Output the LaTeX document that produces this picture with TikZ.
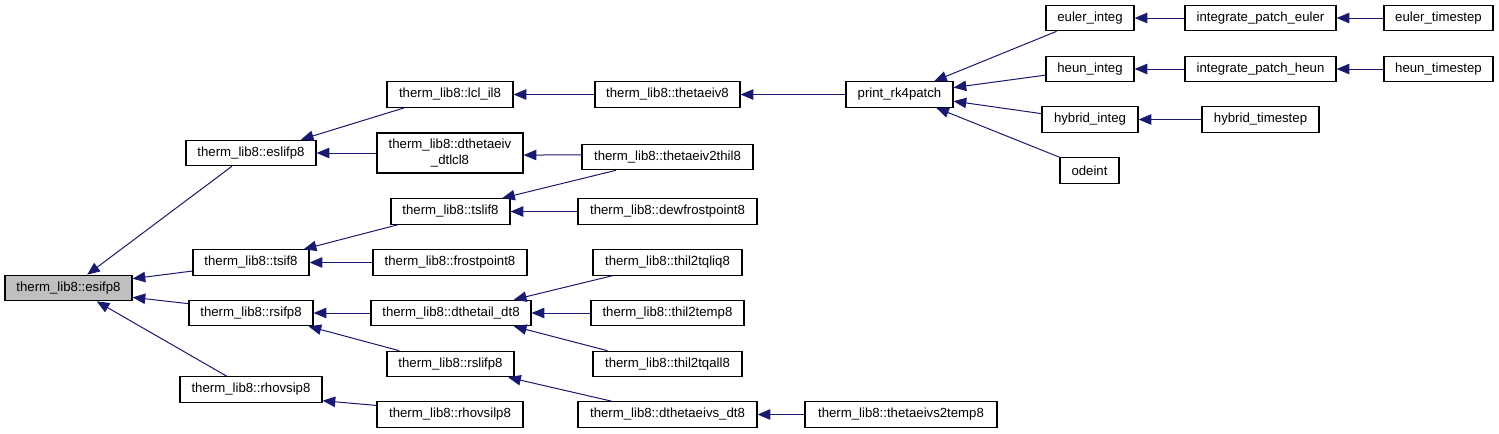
\documentclass[tikz,border=0pt]{standalone}
\usepackage{fontspec}
\setmainfont{Liberation Sans}
\usetikzlibrary{arrows.meta,calc}
\definecolor{edgeblue}{RGB}{25,25,112}
\definecolor{hlgray}{RGB}{191,191,191}
\tikzset{
  fn/.style={draw=black, line width=0.9pt, rectangle, inner sep=0pt, minimum height=19.1pt,
    font=\fontsize{9.9}{11.3}\selectfont, align=center},
  edge/.style={draw=edgeblue, line width=0.75pt, {Triangle[length=9.5pt,width=7.8pt]}-},
}
\begin{document}
\begin{tikzpicture}[x=0.75pt,y=-0.75pt]
\useasboundingbox (0,0) rectangle (1499,433);
% column 1
\node[fn, fill=hlgray, minimum width=95.25pt] (esif) at (68.5,288) {therm\_lib8::esifp8};
% column 2
\node[fn, minimum width=97.5pt] (eslif) at (251,153) {therm\_lib8::eslifp8};
\node[fn, minimum width=87pt] (tsif) at (251,262.5) {therm\_lib8::tsif8};
\node[fn, minimum width=93pt] (rsif) at (251,313) {therm\_lib8::rsifp8};
\node[fn, minimum width=106.5pt] (rhovsip) at (251,389.5) {therm\_lib8::rhovsip8};
% column 3
\node[fn, minimum width=94.5pt] (lcl) at (450,94.5) {therm\_lib8::lcl\_il8};
\node[fn, minimum width=109.5pt, minimum height=30pt] (dtlcl) at (450,153) {therm\_lib8::dthetaeiv\\\_dtlcl8};
\node[fn, minimum width=89.25pt] (tslif) at (450.5,211.5) {therm\_lib8::tslif8};
\node[fn, minimum width=115.5pt] (frost) at (450,262.5) {therm\_lib8::frostpoint8};
\node[fn, minimum width=120pt] (dthetail) at (451,313) {therm\_lib8::dthetail\_dt8};
\node[fn, minimum width=95.25pt] (rslif) at (450.5,364) {therm\_lib8::rslifp8};
\node[fn, minimum width=109.5pt] (rhovsilp) at (450,414.5) {therm\_lib8::rhovsilp8};
% column 4
\node[fn, minimum width=108.75pt] (thetaeiv) at (667.5,94.5) {therm\_lib8::thetaeiv8};
\node[fn, minimum width=128.25pt] (t2thil) at (667.5,157) {therm\_lib8::thetaeiv2thil8};
\node[fn, minimum width=134.25pt] (dewfrost) at (667.5,211.5) {therm\_lib8::dewfrostpoint8};
\node[fn, minimum width=111.75pt] (tqliq) at (667.5,262.5) {therm\_lib8::thil2tqliq8};
\node[fn, minimum width=114.75pt] (thiltemp) at (667.5,313) {therm\_lib8::thil2temp8};
\node[fn, minimum width=111.75pt] (tqall) at (667.5,364) {therm\_lib8::thil2tqall8};
\node[fn, minimum width=134.25pt] (dteivs) at (667.5,414.5) {therm\_lib8::dthetaeivs\_dt8};
% column 5
\node[fn, minimum width=80.25pt] (print) at (899.5,94.5) {print\_rk4patch};
\node[fn, minimum width=144pt] (teivs2t) at (901,414.5) {therm\_lib8::thetaeivs2temp8};
% column 6
\node[fn, minimum width=66pt] (euler) at (1090,18) {euler\_integ};
\node[fn, minimum width=66pt] (heun) at (1090,69) {heun\_integ};
\node[fn, minimum width=72pt] (hybrid) at (1090,119.5) {hybrid\_integ};
\node[fn, minimum width=44.25pt] (odeint) at (1089.5,170.5) {odeint};
% column 7
\node[fn, minimum width=113.25pt] (ipe) at (1260.5,18) {integrate\_patch\_euler};
\node[fn, minimum width=113.25pt] (iph) at (1260.5,69) {integrate\_patch\_heun};
\node[fn, minimum width=87.75pt] (hybts) at (1260.5,119.5) {hybrid\_timestep};
% column 8
\node[fn, minimum width=81.75pt] (eulerts) at (1438.5,18) {euler\_timestep};
\node[fn, minimum width=81.75pt] (heunts) at (1438.5,69) {heun\_timestep};

% edges (arrow at the called function)
\draw[edge] ($(esif.north west)!0.646!(esif.north east)$) -- ($(eslif.south west)!0.354!(eslif.south east)$);
\draw[edge] ($(esif.north east)!0.15!(esif.south east)$) -- ($(tsif.north west)!0.82!(tsif.south west)$);
\draw[edge] ($(esif.north east)!0.85!(esif.south east)$) -- ($(rsif.north west)!0.15!(rsif.south west)$);
\draw[edge] ($(esif.south west)!0.72!(esif.south east)$) -- ($(rhovsip.north west)!0.33!(rhovsip.north east)$);
\draw[edge] ($(eslif.north west)!0.88!(eslif.north east)$) -- ($(lcl.south west)!0.14!(lcl.south east)$);
\draw[edge] (eslif.east) -- (dtlcl.west);
\draw[edge] (lcl.east) -- (thetaeiv.west);
\draw[edge] (thetaeiv.east) -- (print.west);
\draw[edge] ($(print.north west)!0.82!(print.north east)$) -- ($(euler.south west)!0.125!(euler.south east)$);
\draw[edge] ($(print.north east)!0.24!(print.south east)$) -- ($(heun.north west)!0.73!(heun.south west)$);
\draw[edge] ($(print.north east)!0.75!(print.south east)$) -- ($(hybrid.north west)!0.28!(hybrid.south west)$);
\draw[edge] ($(print.south west)!0.84!(print.south east)$) -- (odeint.north west);
\draw[edge] (euler.east) -- (ipe.west);
\draw[edge] (ipe.east) -- (eulerts.west);
\draw[edge] (heun.east) -- (iph.west);
\draw[edge] (iph.east) -- (heunts.west);
\draw[edge] (hybrid.east) -- (hybts.west);
\draw[edge] ($(dtlcl.north east)!0.55!(dtlcl.south east)$) -- ($(t2thil.north west)!0.42!(t2thil.south west)$);
\draw[edge] ($(tslif.north west)!0.93!(tslif.north east)$) -- ($(t2thil.south west)!0.2!(t2thil.south east)$);
\draw[edge] (tslif.east) -- (dewfrost.west);
\draw[edge] ($(tsif.north west)!0.95!(tsif.north east)$) -- ($(tslif.south west)!0.06!(tslif.south east)$);
\draw[edge] (tsif.east) -- (frost.west);
\draw[edge] (rsif.east) -- (dthetail.west);
\draw[edge] ($(rsif.south west)!0.96!(rsif.south east)$) -- ($(rslif.north west)!0.1!(rslif.north east)$);
\draw[edge] ($(dthetail.north west)!0.89!(dthetail.north east)$) -- ($(tqliq.south west)!0.13!(tqliq.south east)$);
\draw[edge] (dthetail.east) -- (thiltemp.west);
\draw[edge] ($(dthetail.south west)!0.89!(dthetail.south east)$) -- ($(tqall.north west)!0.1!(tqall.north east)$);
\draw[edge] ($(rslif.south west)!0.95!(rslif.south east)$) -- ($(dteivs.north west)!0.19!(dteivs.north east)$);
\draw[edge] (dteivs.east) -- (teivs2t.west);
\draw[edge] ($(rhovsip.north east)!0.92!(rhovsip.south east)$) -- ($(rhovsilp.north west)!0.16!(rhovsilp.south west)$);
\end{tikzpicture}
\end{document}
